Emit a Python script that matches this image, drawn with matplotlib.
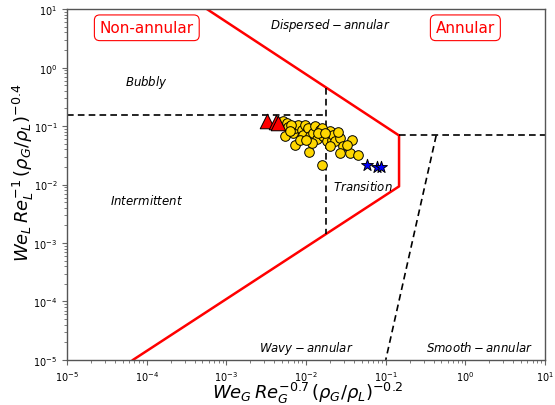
import matplotlib
matplotlib.use("Agg")
import matplotlib.pyplot as plt
import numpy as np

# Data
circ_x = [5.13e-3, 5.75e-3, 5.93e-3, 5.43e-3, 6.86e-3, 7.26e-3, 7.91e-3, 8.89e-3, 9.68e-3, 9.14e-3,
          1.06e-2, 1.12e-2, 1.22e-2, 1.29e-2, 1.37e-2, 1.49e-2, 1.63e-2, 1.83e-2, 7.26e-3, 1.09e-2,
          2.00e-2, 2.11e-2, 1.58e-2, 2.17e-2, 2.31e-2, 2.66e-2, 2.90e-2, 3.77e-2, 2.66e-2, 3.56e-2,
          4.48e-2, 2.00e-2, 1.58e-2, 8.37e-3, 6.47e-3, 1.19e-2, 1.41e-2, 3.26e-2, 2.51e-2, 6.28e-3,
          9.98e-3, 1.73e-2]
circ_y = [0.121, 0.112, 0.0953, 0.0668, 0.0753, 0.0916, 0.103, 0.0848, 0.103, 0.0695,
          0.0916, 0.0668, 0.0753, 0.0993, 0.0594, 0.0848, 0.0668, 0.0549, 0.0469, 0.0356,
          0.0815, 0.0571, 0.0916, 0.0695, 0.0549, 0.0618, 0.0451, 0.0571, 0.0341, 0.0341,
          0.0316, 0.0451, 0.0213, 0.0571, 0.103, 0.0507, 0.0753, 0.0469, 0.0783, 0.0815,
          0.0571, 0.0753]
tri_x = [3.23e-3, 4.2e-3, 4.5e-3]
tri_y = [0.121, 0.118, 0.112]
star_x = [0.0581, 0.0777, 0.0871]
star_y = [0.0213, 0.0196, 0.0196]

# Boundary lines
red_x = [5.7e-4, 0.147, 0.147, 6.7e-5]
red_y = [10.0, 0.069, 0.0093, 1e-5]
dash_h1_x = [1e-5, 0.0178]
dash_h1_y = [0.153, 0.153]
dash_v1_x = [0.0178, 0.0178]
dash_v1_y = [0.45, 1.45e-3]
dash_h2_x = [0.147, 10.0]
dash_h2_y = [0.069, 0.069]
dash_s_x = [0.43, 0.1]
dash_s_y = [0.069, 1e-5]

fig = plt.figure(figsize=(5.55, 4.06), dpi=100)
ax = fig.add_axes([0.121, 0.111, 0.861, 0.864])
ax.set_xscale('log')
ax.set_yscale('log')
ax.set_xlim(1e-5, 10)
ax.set_ylim(1e-5, 10)

ax.plot(red_x, red_y, color='red', lw=1.8, zorder=2)
for xs, ys in [(dash_h1_x, dash_h1_y), (dash_v1_x, dash_v1_y), (dash_h2_x, dash_h2_y), (dash_s_x, dash_s_y)]:
    ax.plot(xs, ys, color='black', lw=1.2, ls='--', dashes=(4, 2.5), zorder=2)

ax.scatter(circ_x, circ_y, s=48, marker='o', facecolor='gold', edgecolor='black', linewidth=0.7, zorder=3)
ax.scatter(tri_x, tri_y, s=110, marker='^', facecolor='red', edgecolor='black', linewidth=0.7, zorder=4)
ax.scatter(star_x, star_y, s=80, marker='*', facecolor='blue', edgecolor='black', linewidth=0.7, zorder=4)

fs = 8.5
ax.text(1e-4, 0.59, r'$Bubbly$', ha='center', va='center', fontsize=fs)
ax.text(1e-4, 0.0055, r'$Intermittent$', ha='center', va='center', fontsize=fs)
ax.text(0.02, 5.4, r'$Dispersed-annular$', ha='center', va='center', fontsize=fs)
ax.text(0.052, 0.0095, r'$Transition$', ha='center', va='center', fontsize=fs)
ax.text(0.01, 1.66e-5, r'$Wavy-annular$', ha='center', va='center', fontsize=fs)
ax.text(1.5, 1.66e-5, r'$Smooth-annular$', ha='center', va='center', fontsize=fs)

box = dict(boxstyle='round,pad=0.35', facecolor='white', edgecolor='red', linewidth=0.8)
ax.text(1e-4, 4.8, 'Non-annular', ha='center', va='center', fontsize=11, color='red', bbox=box)
ax.text(1.0, 4.8, 'Annular', ha='center', va='center', fontsize=11, color='red', bbox=box)

ax.set_xlabel(r'$We_G\,Re_G^{-0.7}\,(\rho_G/\rho_L)^{-0.2}$', fontsize=13)
ax.set_ylabel(r'$We_L\,Re_L^{-1}\,(\rho_G/\rho_L)^{-0.4}$', fontsize=13)
ax.xaxis.set_label_coords(0.503, -0.057)
ax.yaxis.set_label_coords(-0.066, 0.536)

ax.tick_params(axis='both', which='major', labelsize=7, length=3.5, color='#666666')
ax.tick_params(axis='both', which='minor', length=2, color='#666666')
ax.xaxis.set_major_locator(matplotlib.ticker.LogLocator(base=10, numticks=10))
ax.yaxis.set_major_locator(matplotlib.ticker.LogLocator(base=10, numticks=10))
ax.xaxis.set_minor_locator(matplotlib.ticker.LogLocator(base=10, subs=np.arange(2, 10), numticks=20))
ax.yaxis.set_minor_locator(matplotlib.ticker.LogLocator(base=10, subs=np.arange(2, 10), numticks=20))
for sp in ax.spines.values():
    sp.set_color('#555555')
    sp.set_linewidth(1.0)

fig.savefig('out.png', dpi=100)
